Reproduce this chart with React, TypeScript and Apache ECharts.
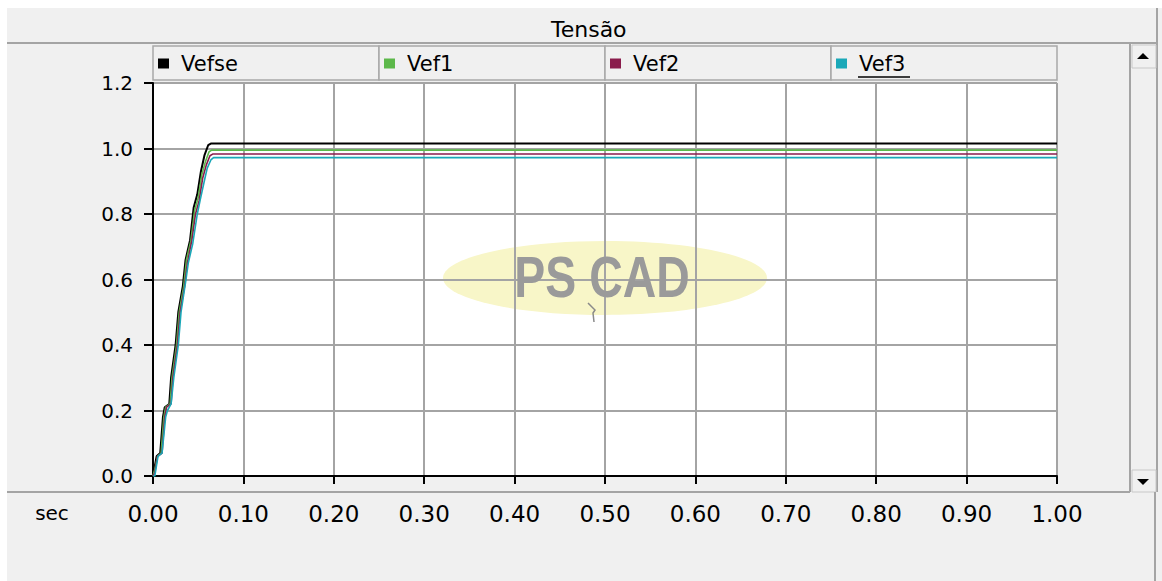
import React, { useEffect, useRef } from "react";
import * as echarts from "echarts";

const seriesNames = ["Vefse", "Vef1", "Vef2", "Vef3"];
const seriesColors = ["#000000", "#5cb84a", "#8a1c4c", "#1aa8b8"];

const tVefse = [0, 0.002, 0.004, 0.008, 0.011, 0.013, 0.018, 0.020, 0.025, 0.028, 0.033, 0.036, 0.041, 0.045, 0.049, 0.053, 0.057, 0.061, 0.064, 1.0];
const vVefse = [0, 0.03, 0.06, 0.07, 0.18, 0.21, 0.22, 0.30, 0.40, 0.50, 0.58, 0.66, 0.72, 0.82, 0.86, 0.93, 0.98, 1.01, 1.015, 1.015];

const tVef1 = [0, 0.002, 0.005, 0.009, 0.012, 0.014, 0.019, 0.021, 0.026, 0.029, 0.034, 0.037, 0.042, 0.046, 0.050, 0.054, 0.058, 0.062, 0.065, 1.0];
const vVef1 = [0, 0.02, 0.06, 0.07, 0.18, 0.21, 0.22, 0.30, 0.40, 0.50, 0.58, 0.66, 0.72, 0.81, 0.85, 0.92, 0.96, 0.99, 0.995, 0.995];

const tVef2 = [0, 0.002, 0.005, 0.010, 0.013, 0.015, 0.020, 0.022, 0.027, 0.030, 0.035, 0.038, 0.043, 0.047, 0.051, 0.055, 0.059, 0.063, 0.066, 1.0];
const vVef2 = [0, 0.01, 0.06, 0.07, 0.18, 0.21, 0.22, 0.30, 0.40, 0.50, 0.58, 0.65, 0.72, 0.80, 0.84, 0.91, 0.95, 0.978, 0.983, 0.983];

const tVef3 = [0, 0.002, 0.0055, 0.010, 0.014, 0.016, 0.020, 0.023, 0.028, 0.031, 0.0365, 0.039, 0.044, 0.049, 0.052, 0.0575, 0.060, 0.064, 0.067, 1.0];
const vVef3 = [0, 0, 0.06, 0.07, 0.18, 0.20, 0.22, 0.30, 0.40, 0.50, 0.60, 0.65, 0.71, 0.80, 0.84, 0.91, 0.94, 0.965, 0.972, 0.972];

const seriesT = [tVefse, tVef1, tVef2, tVef3];
const seriesV = [vVefse, vVef1, vVef2, vVef3];

const titleText = "Tensão";
const xUnitText = "sec";
const watermarkText = "PS CAD";

const FONT = "DejaVu Sans";
const LINE_GRAY = "#a4a4a4";

export default function App() {
  const ref = useRef<HTMLDivElement>(null);
  useEffect(() => {
    if (!ref.current) return;
    const chart = echarts.init(ref.current, null, { renderer: "svg" });

    const tabX = [153, 379, 605, 831];
    const tabW = 226;

    const series = seriesNames.map((name, i) => ({
      name,
      type: "line",
      data: seriesT[i].map((t, k) => [t, seriesV[i][k]]),
      showSymbol: false,
      symbol: "none",
      lineStyle: { color: seriesColors[i], width: i === 0 ? 2 : 1.6 },
      itemStyle: { color: seriesColors[i] },
      z: 5,
    }));

    const legends = seriesNames.map((name, i) => ({
      data: [name],
      left: tabX[i] + 5,
      top: 53,
      padding: 0,
      icon: "rect",
      itemWidth: 11,
      itemHeight: 10,
      selectedMode: false,
      textStyle: { fontSize: 21, fontFamily: FONT, color: "#000", padding: [0, 0, 0, 7] },
    }));

    const graphics: any[] = [
      { type: "rect", shape: { x: 0, y: 0, width: 1162, height: 8 }, style: { fill: "#ffffff" }, z: -10 },
      { type: "rect", shape: { x: 0, y: 0, width: 7, height: 581 }, style: { fill: "#ffffff" }, z: -10 },
      { type: "line", shape: { x1: 7, y1: 43, x2: 1157, y2: 43 }, style: { stroke: LINE_GRAY, lineWidth: 2 } },
      { type: "line", shape: { x1: 1157, y1: 8, x2: 1157, y2: 492 }, style: { stroke: LINE_GRAY, lineWidth: 2 } },
      { type: "line", shape: { x1: 1130, y1: 43, x2: 1130, y2: 492 }, style: { stroke: LINE_GRAY, lineWidth: 2 } },
      { type: "rect", shape: { x: 1132, y: 45, width: 24, height: 23 }, style: { fill: "#f0f0f0", stroke: "#c8c8c8", lineWidth: 1 } },
      { type: "polygon", shape: { points: [[1137, 59], [1149, 59], [1143, 53]] }, style: { fill: "#000" } },
      { type: "rect", shape: { x: 1132, y: 470, width: 24, height: 22 }, style: { fill: "#f0f0f0", stroke: "#c8c8c8", lineWidth: 1 } },
      { type: "polygon", shape: { points: [[1137, 479], [1149, 479], [1143, 485]] }, style: { fill: "#000" } },
      { type: "line", shape: { x1: 7, y1: 492, x2: 1130, y2: 492 }, style: { stroke: LINE_GRAY, lineWidth: 2 } },
      { type: "line", shape: { x1: 1155, y1: 492, x2: 1155, y2: 581 }, style: { stroke: LINE_GRAY, lineWidth: 2 } },
      {
        type: "text",
        style: { text: xUnitText, x: 52, y: 513, align: "center", verticalAlign: "middle", fontSize: 20, fontFamily: FONT, fill: "#000" },
      },
      {
        type: "ellipse",
        shape: { cx: 605, cy: 278, rx: 162, ry: 37 },
        style: { fill: "#f8f6c8" },
        z: 1,
      },
      {
        type: "text",
        x: 602,
        y: 277,
        scaleX: 0.8,
        style: {
          text: watermarkText,
          x: 0,
          y: 0,
          align: "center",
          verticalAlign: "middle",
          fontSize: 58,
          fontWeight: "bold",
          fontFamily: "Liberation Sans",
          fill: "#9a9a9a",
          letterSpacing: -4,
        },
        z: 4,
      },
      {
        type: "polyline",
        shape: { points: [[588, 303], [595, 310], [593, 313], [594, 322]] },
        style: { stroke: "#8a8a8a", lineWidth: 1.5, fill: "none" },
        z: 4,
      },
      { type: "line", shape: { x1: 858, y1: 77, x2: 910, y2: 77 }, style: { stroke: "#000", lineWidth: 1.5 } },
    ];
    tabX.forEach((x) => {
      graphics.push({
        type: "rect",
        shape: { x, y: 46, width: tabW, height: 34 },
        style: { fill: "#f0f0f0", stroke: "#a8a8a8", lineWidth: 1.5 },
        z: -1,
      });
    });

    chart.setOption({
      animation: false,
      backgroundColor: "#f0f0f0",
      title: {
        text: titleText,
        left: 546,
        top: 13,
        textStyle: { fontSize: 22, fontWeight: "normal", fontFamily: FONT, color: "#000" },
      },
      legend: legends,
      grid: {
        left: 153,
        top: 83,
        width: 904,
        height: 393,
        show: true,
        backgroundColor: "#ffffff",
        borderWidth: 0,
        z: 0,
      },
      xAxis: {
        type: "value",
        min: 0,
        max: 1,
        interval: 0.1,
        offset: 21,
        z: 2,
        axisLine: { show: true, lineStyle: { color: "#000", width: 2 } },
        axisTick: { show: true, length: 8, lineStyle: { color: "#000", width: 2 } },
        axisLabel: {
          formatter: (v: number) => v.toFixed(2),
          fontSize: 23,
          fontFamily: FONT,
          color: "#000",
          margin: 5,
        },
        splitLine: { show: true, lineStyle: { color: LINE_GRAY, width: 2 } },
      },
      yAxis: {
        type: "value",
        min: 0,
        max: 1.2,
        interval: 0.2,
        z: 2,
        axisLine: { show: true, lineStyle: { color: "#000", width: 2 } },
        axisTick: { show: true, length: 9, lineStyle: { color: "#000", width: 2 } },
        axisLabel: {
          formatter: (v: number) => v.toFixed(1),
          fontSize: 20,
          fontFamily: FONT,
          color: "#000",
          margin: 20,
        },
        splitLine: { show: true, lineStyle: { color: LINE_GRAY, width: 2 } },
      },
      graphic: graphics,
      series,
    });
    return () => chart.dispose();
  }, []);
  return <div ref={ref} style={{ position: "absolute", left: 0, top: 0, width: 1162, height: 581 }} />;
}
